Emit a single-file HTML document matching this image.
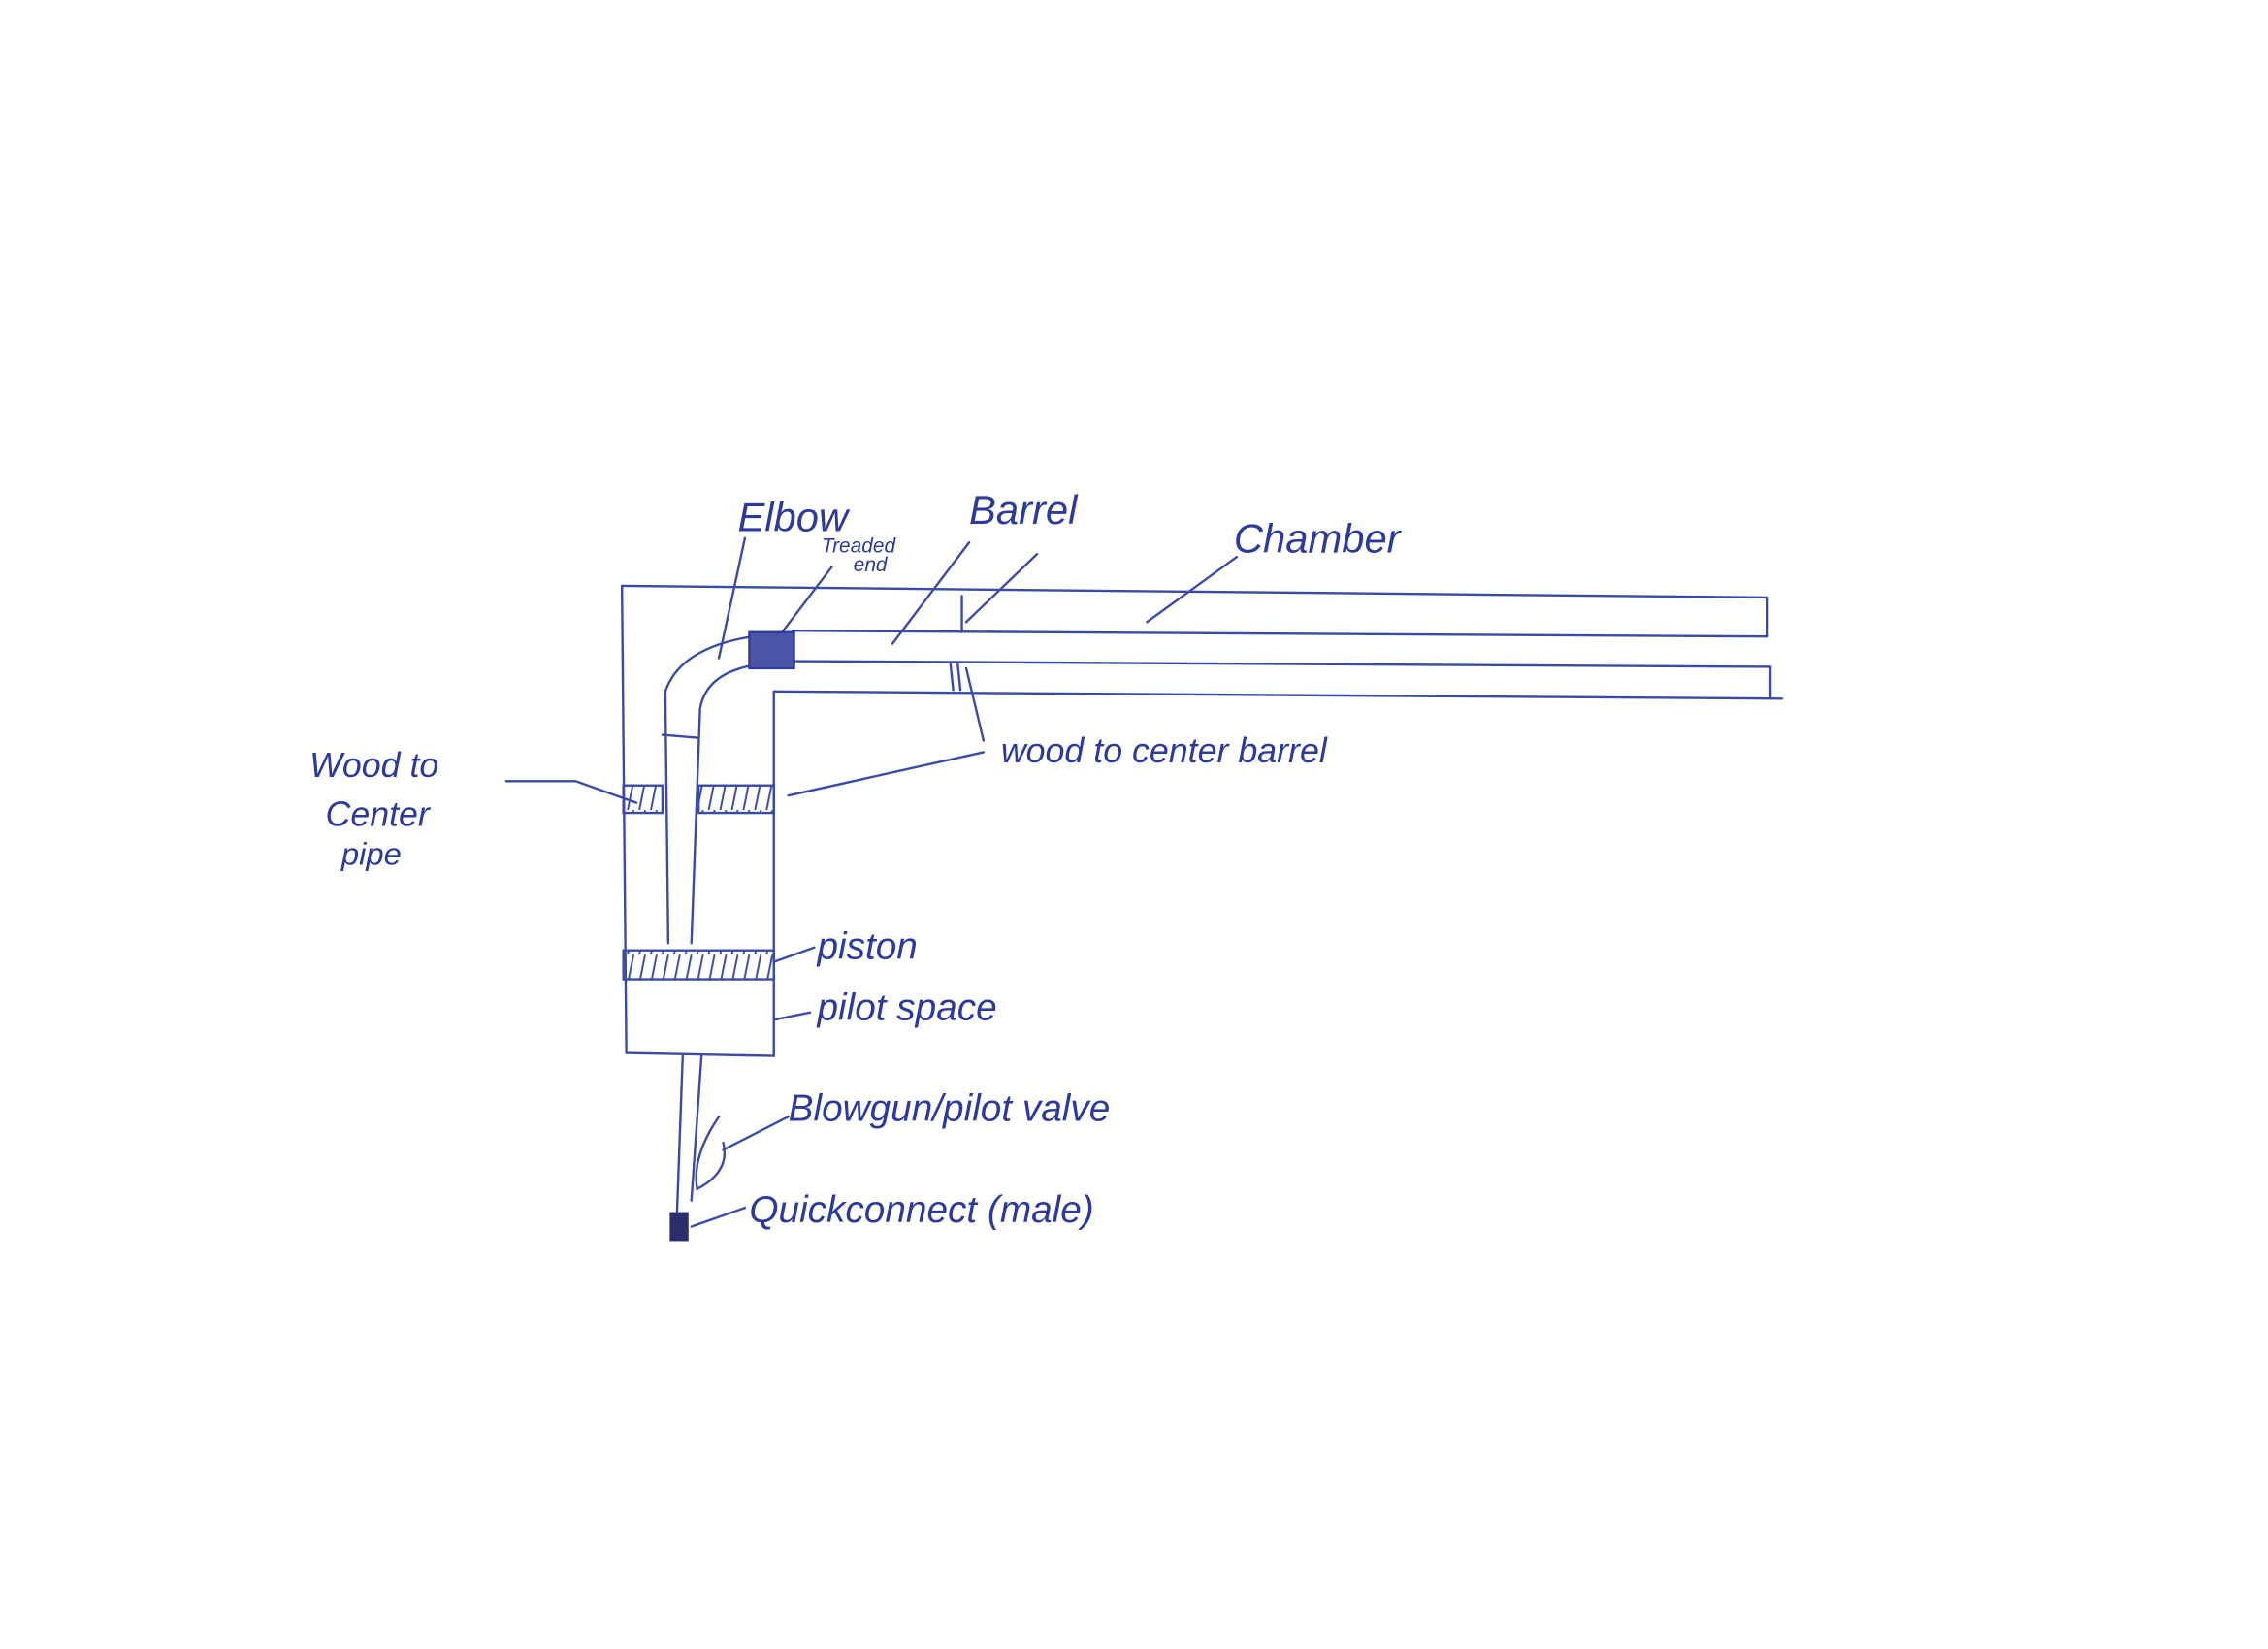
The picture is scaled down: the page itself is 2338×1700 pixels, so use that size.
<!DOCTYPE html>
<html><head><meta charset="utf-8"><style>
html,body{margin:0;padding:0;background:#fff;}
svg{display:block;}
text{font-family:"Liberation Sans",sans-serif;font-style:italic;fill:#2b3a9c;}
</style></head><body>
<svg width="2338" height="1700" viewBox="0 0 1568 1140" xmlns="http://www.w3.org/2000/svg">
<defs>
<pattern id="h" width="8" height="20" patternUnits="userSpaceOnUse"><line x1="6" y1="0" x2="2" y2="20" stroke="#3a4aa8" stroke-width="1.3"/></pattern>
</defs>
<g stroke="#3a4aa8" stroke-width="1.6" fill="none" stroke-linecap="round">
<!-- chamber -->
<line x1="430" y1="405" x2="1222" y2="413"/>
<line x1="430" y1="405" x2="433" y2="728"/>
<line x1="433" y1="728" x2="535" y2="730"/>
<line x1="535" y1="478" x2="535" y2="730"/>
<line x1="535" y1="478" x2="1232" y2="483"/>
<!-- barrel -->
<line x1="548" y1="436" x2="1222" y2="440"/>
<line x1="548" y1="457" x2="1224" y2="461"/>
<line x1="1222" y1="414" x2="1222" y2="440"/>
<line x1="1224" y1="461" x2="1224" y2="483"/>
<line x1="665" y1="412" x2="665" y2="437"/>
<line x1="657" y1="458" x2="659" y2="477"/>
<line x1="662" y1="458" x2="664" y2="477"/>
<!-- elbow pipe -->
<path d="M520 440 Q470 448 460 478 L462 652"/>
<path d="M520 460 Q488 466 484 490 L478 652"/>
<line x1="458" y1="508" x2="482" y2="510"/>
<!-- wood bands -->
<rect x="431" y="543" width="27" height="19" fill="url(#h)"/>
<rect x="483" y="543" width="52" height="19" fill="url(#h)"/>
<!-- piston -->
<rect x="431" y="657" width="104" height="20" fill="url(#h)"/>
<!-- lower pipe -->
<path d="M472 730 L468 840"/>
<path d="M485 730 L478 830"/>
<path d="M497 772 Q478 800 482 822 Q505 810 500 790"/>
<!-- leaders -->
<line x1="515" y1="372" x2="497" y2="455"/>
<line x1="575" y1="392" x2="540" y2="438"/>
<line x1="670" y1="375" x2="617" y2="445"/>
<line x1="717" y1="383" x2="668" y2="430"/>
<line x1="855" y1="385" x2="793" y2="430"/>
<line x1="680" y1="512" x2="668" y2="462"/>
<line x1="680" y1="520" x2="545" y2="550"/>
<polyline points="350,540 398,540 440,555"/>
<line x1="535" y1="665" x2="563" y2="655"/>
<line x1="535" y1="705" x2="560" y2="700"/>
<line x1="500" y1="795" x2="545" y2="772"/>
<line x1="478" y1="848" x2="515" y2="835"/>
</g>
<rect x="518" y="437" width="31" height="25" fill="#4a55a8" stroke="#2b3a9c" stroke-width="1.5"/>
<rect x="463" y="838" width="13" height="20" fill="#2a2f6a"/>
<text x="510" y="367" font-size="28">Elbow</text>
<text x="568" y="382" font-size="14">Treaded</text>
<text x="590" y="395" font-size="14">end</text>
<text x="670" y="362" font-size="28">Barrel</text>
<text x="853" y="382" font-size="28">Chamber</text>
<text x="692" y="527" font-size="24">wood  to  center  barrel</text>
<text x="214" y="537" font-size="24">Wood   to</text>
<text x="225" y="571" font-size="24">Center</text>
<text x="236" y="598" font-size="22">pipe</text>
<text x="565" y="663" font-size="26">piston</text>
<text x="565" y="705" font-size="26">pilot  space</text>
<text x="545" y="775" font-size="26">Blowgun/pilot  valve</text>
<text x="518" y="845" font-size="26">Quickconnect  (male)</text>
</svg>
</body></html>
